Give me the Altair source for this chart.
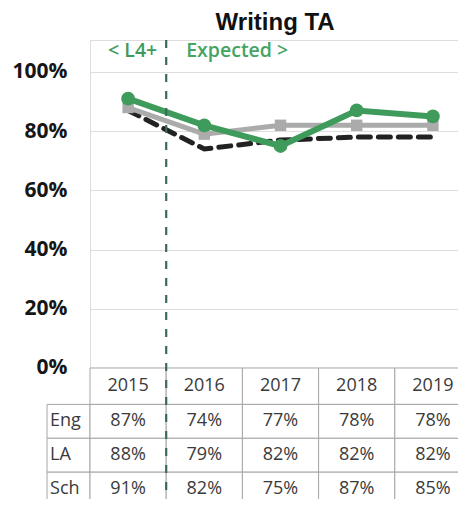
import altair as alt
import pandas as pd

# ---- data ----
years = ["2015", "2016", "2017", "2018", "2019"]
series = ["Eng", "LA", "Sch"]
eng = [87, 74, 77, 78, 78]
la = [88, 79, 82, 82, 82]
sch = [91, 82, 75, 87, 85]
tick_values = [0, 20, 40, 60, 80, 100]
left_label = "< L4+"
right_label = "Expected >"
title_text = "Writing TA"

vals = {"Eng": eng, "LA": la, "Sch": sch}

line_rows = []
for s in series:
    for c, y in enumerate(years):
        line_rows.append({"series": s, "year": y, "col": c, "value": vals[s][c]})
ldf = pd.DataFrame(line_rows)

cells = []
for c, y in enumerate(years):
    cells.append({"col": c, "row": 0, "text": y})
for r, s in enumerate(series):
    cells.append({"col": -1, "row": r + 1, "text": s})
    for c in range(len(years)):
        cells.append({"col": c, "row": r + 1, "text": f"{vals[s][c]}%"})
tdf = pd.DataFrame(cells)

H0 = 12.3   # header row height (y units)
R = 11.45   # data row height (y units)
LABW = 0.564

xs = alt.Scale(domain=[0, 4.8294], nice=False, zero=False)
ys = alt.Scale(domain=[-44.26, 110.81], nice=False, zero=False)
yax = alt.Axis(values=tick_values, labelExpr="datum.value + '%'", title=None,
               ticks=False, domain=False, grid=True, gridColor="#dedede",
               gridWidth=1, labelFont="Open Sans", labelFontSize=21,
               labelFontWeight="bold", labelColor="#161616", labelPadding=23)

GREEN = "#3e9b5c"
GRAY = "#ababab"
BLACK = "#222222"

lbase = alt.Chart(ldf).transform_calculate(xc="datum.col + 0.5")

def enc(ch):
    return ch.encode(
        x=alt.X("xc:Q", scale=xs, axis=None),
        y=alt.Y("value:Q", scale=ys, axis=yax),
    )

eng_line = enc(lbase.transform_filter("datum.series == 'Eng'").mark_line(
    color=BLACK, strokeWidth=5, strokeDash=[12, 8], strokeCap="round"))
la_line = enc(lbase.transform_filter("datum.series == 'LA'").mark_line(
    color=GRAY, strokeWidth=5))
la_pts = enc(lbase.transform_filter("datum.series == 'LA'").mark_point(
    shape="square", filled=True, color=GRAY, size=130, opacity=1))
sch_line = enc(lbase.transform_filter("datum.series == 'Sch'").mark_line(
    color=GREEN, strokeWidth=6))
sch_pts = enc(lbase.transform_filter("datum.series == 'Sch'").mark_point(
    shape="circle", filled=True, color=GREEN, size=190, opacity=1))

tbase = alt.Chart(tdf).transform_calculate(
    x1=f"datum.col < 0 ? {-LABW} : datum.col",
    x2="datum.col < 0 ? 0 : datum.col + 1",
    y1=f"datum.row == 0 ? 0 : -({H0} + (datum.row - 1) * {R})",
    y2=f"-({H0} + datum.row * {R})",
    xc=f"datum.col < 0 ? {-LABW} : datum.col + 0.5",
    yc=f"datum.row == 0 ? -{H0} / 2 : -({H0} + (datum.row - 0.5) * {R})",
)

cell_rects = tbase.mark_rect(fill="white", stroke="#a6a6a6", strokeWidth=1).encode(
    x=alt.X("x1:Q", scale=xs, axis=None), x2="x2:Q",
    y=alt.Y("y1:Q", scale=ys, axis=yax), y2="y2:Q",
)
cell_text = tbase.transform_filter("datum.col >= 0").mark_text(
    font="Open Sans", fontSize=18, color="#3a3a3a", align="center", baseline="middle"
).encode(
    x=alt.X("xc:Q", scale=xs, axis=None),
    y=alt.Y("yc:Q", scale=ys, axis=yax),
    text="text:N",
)
row_text = tbase.transform_filter("datum.col < 0").mark_text(
    font="Open Sans", fontSize=18, color="#3a3a3a", align="left", baseline="middle", dx=3
).encode(
    x=alt.X("xc:Q", scale=xs, axis=None),
    y=alt.Y("yc:Q", scale=ys, axis=yax),
    text="text:N",
)

divider = alt.Chart(pd.DataFrame({"b": [1]})).mark_rule(
    color="#3b6b58", strokeWidth=2.2, strokeDash=[8, 9]
).encode(x=alt.X("b:Q", scale=xs, axis=None))

ann_left = alt.Chart(pd.DataFrame({"b": [1], "t": [left_label]})).mark_text(
    font="Open Sans", fontSize=19.5, fontWeight=600, color=GREEN, align="right",
    baseline="middle", dx=-9
).encode(x=alt.X("b:Q", scale=xs, axis=None), y=alt.datum(107.2, scale=ys), text="t:N")
ann_right = alt.Chart(pd.DataFrame({"b": [1], "t": [right_label]})).mark_text(
    font="Open Sans", fontSize=19.5, fontWeight=600, color="#45a463", align="left",
    baseline="middle", dx=20
).encode(x=alt.X("b:Q", scale=xs, axis=None), y=alt.datum(107.2, scale=ys), text="t:N")

title_mark = alt.Chart(pd.DataFrame({"t": [title_text]})).mark_text(
    font="Liberation Sans", fontSize=24, fontWeight="bold", color="#111111",
    align="center", baseline="alphabetic"
).encode(x=alt.datum(2.43, scale=xs), y=alt.datum(114.2, scale=ys), text="t:N")

chart = alt.layer(
    cell_rects, cell_text, row_text,
    eng_line, la_line, la_pts, sch_line, sch_pts,
    divider, ann_left, ann_right, title_mark,
).properties(
    width=368, height=459,
    autosize=alt.AutoSizeParams(type="none"),
    padding={"left": 82, "top": 32, "right": 0, "bottom": 0},
).configure_view(stroke=None).configure(background="white")

chart.save("out.html", embed_options={"renderer": "svg", "actions": False})
